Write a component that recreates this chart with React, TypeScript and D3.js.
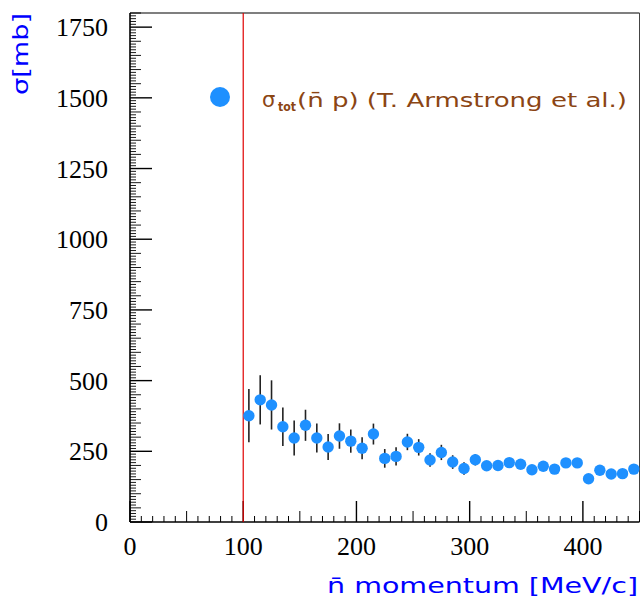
import React from "react";
import * as d3 from "d3";

// antineutron momentum bin centres [MeV/c]
const momentum = [
  105, 115, 125, 135, 145, 155, 165, 175, 185, 195,
  205, 215, 225, 235, 245, 255, 265, 275, 285, 295,
  305, 315, 325, 335, 345, 355, 365, 375, 385, 395,
  405, 415, 425, 435, 445,
];
// total cross section [mb]
const sigma = [
  376, 432, 414, 337, 297, 342, 297, 265, 304, 286,
  261, 311, 225, 232, 283, 264, 219, 246, 212, 189,
  220, 199, 200, 210, 204, 185, 197, 187, 209, 209,
  153, 183, 170, 171, 187,
];
const sigmaErr = [
  94, 87, 87, 68, 62, 55, 51, 46, 45, 41,
  39, 37, 33, 32, 29, 29, 24, 27, 24, 22,
  20, 15, 15, 15, 14, 14, 14, 13, 13, 13,
  13, 12, 12, 12, 12,
];
const xMajor = [0, 100, 200, 300, 400];
const yMajor = [0, 250, 500, 750, 1000, 1250, 1500, 1750];
const thresholdMomentum = 100;

const legendText = "(n\u0304 p) (T. Armstrong et al.)";
const xTitle = "n\u0304 momentum [MeV/c]";
const yTitle = "σ[mb]";

const W = 640;
const H = 608;
const M = { left: 130, right: 639.5, top: 13, bottom: 522 };

const App = () => {
  const x = d3.scaleLinear().domain([0, 450]).range([M.left, M.right]);
  const y = d3.scaleLinear().domain([0, 1800]).range([M.bottom, M.top]);

  const xMinor = d3.range(0, 451, 10);
  const yMinor = d3.range(0, 1801, 10);

  const xTickLen = (v: number) => (v % 100 === 0 ? 21 : v % 50 === 0 ? 11 : 6);
  const yTickLen = (v: number) => (v % 250 === 0 ? 22 : v % 50 === 0 ? 11 : 6);

  const blue = "#1e90ff";
  const titleFont = "DejaVu Sans";

  return (
    <svg
      width={W}
      height={H}
      style={{ position: "absolute", left: 0, top: 0, background: "#fff" }}
    >
      {/* frame */}
      <line x1={M.left} x2={M.right} y1={M.top} y2={M.top} stroke="#000" strokeWidth={1.2} />
      <line x1={M.right} x2={M.right} y1={M.top} y2={M.bottom} stroke="#444" strokeWidth={1} />

      {/* x ticks */}
      {xMinor.map((v) => (
        <line
          key={"xt" + v}
          x1={x(v)}
          x2={x(v)}
          y1={M.bottom}
          y2={M.bottom - xTickLen(v)}
          stroke="#000"
          strokeWidth={v % 100 === 0 ? 1.4 : 1}
        />
      ))}
      {/* y ticks */}
      {yMinor.map((v) => (
        <line
          key={"yt" + v}
          x1={M.left}
          x2={M.left + yTickLen(v)}
          y1={y(v)}
          y2={y(v)}
          stroke="#000"
          strokeWidth={v % 250 === 0 ? 1.4 : 0.9}
        />
      ))}

      {/* axes */}
      <line x1={M.left} x2={M.right} y1={M.bottom} y2={M.bottom} stroke="#000" strokeWidth={1.6} />
      <line x1={M.left} x2={M.left} y1={M.top} y2={M.bottom} stroke="#000" strokeWidth={1.6} />

      {/* tick labels */}
      {xMajor.map((v) => (
        <text
          key={"xl" + v}
          x={x(v)}
          y={555}
          textAnchor="middle"
          fontFamily="Liberation Serif"
          fontSize={26}
          fill="#000"
        >
          {String(v)}
        </text>
      ))}
      {yMajor.map((v) => (
        <text
          key={"yl" + v}
          x={108}
          y={y(v) + 9}
          textAnchor="end"
          fontFamily="Liberation Serif"
          fontSize={26}
          fill="#000"
        >
          {String(v)}
        </text>
      ))}

      {/* threshold line */}
      <line
        x1={x(thresholdMomentum)}
        x2={x(thresholdMomentum)}
        y1={M.top}
        y2={M.bottom}
        stroke="#e00000"
        strokeWidth={1.2}
      />

      {/* error bars */}
      {momentum.map((m, i) => (
        <line
          key={"e" + i}
          x1={x(m)}
          x2={x(m)}
          y1={y(sigma[i] - sigmaErr[i])}
          y2={y(sigma[i] + sigmaErr[i])}
          stroke="#222"
          strokeWidth={1.6}
        />
      ))}
      {/* points */}
      {momentum.map((m, i) => (
        <circle key={"p" + i} cx={x(m)} cy={y(sigma[i])} r={5.7} fill={blue} />
      ))}

      {/* legend */}
      <circle cx={220} cy={97} r={10} fill={blue} />
      <text x={262} y={107} fontSize={21} fill="#8b4513" fontFamily={titleFont}>σ</text>
      <text
        x={278}
        y={110.5}
        fontSize={12}
        fill="#8b4513"
        fontFamily={titleFont}
        fontWeight="bold"
        textLength={18}
        lengthAdjust="spacingAndGlyphs"
      >
        tot
      </text>
      <text
        x={297}
        y={107}
        fontSize={20}
        fill="#8b4513"
        fontFamily={titleFont}
        textLength={330}
        lengthAdjust="spacingAndGlyphs"
      >
        {legendText}
      </text>

      {/* axis titles */}
      <text
        x={638}
        y={593}
        textAnchor="end"
        fontFamily={titleFont}
        fontSize={21}
        fill="#0000ff"
        textLength={311}
        lengthAdjust="spacingAndGlyphs"
      >
        {xTitle}
      </text>
      <text
        transform={`translate(28, ${M.top}) rotate(-90)`}
        textAnchor="end"
        fontFamily={titleFont}
        fontSize={22}
        fill="#0000ff"
        textLength={82}
        lengthAdjust="spacingAndGlyphs"
      >
        {yTitle}
      </text>
    </svg>
  );
};

export default App;
